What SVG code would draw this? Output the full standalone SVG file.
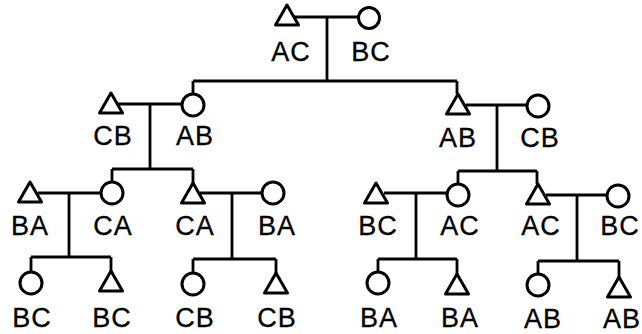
<svg xmlns="http://www.w3.org/2000/svg" width="642" height="334" viewBox="0 0 642 334">
<style>
.ln{stroke:#000;stroke-width:2.8;fill:none}
.sh{stroke:#000;stroke-width:3;fill:#fff;stroke-linejoin:round}
text{font-family:"Liberation Sans",Arial,sans-serif;font-size:27px;text-anchor:middle;fill:#000;letter-spacing:1px;stroke:#000;stroke-width:0.3}
</style>
<rect width="642" height="334" fill="#fff"/>
<g id="connectors" class="ln">
<path d="M292 17H359M327 17V81M193 81H457M193 81V94M457 81V94"/>
<path d="M118 104H182M150 104V169M112 169H193M112 169V182M193 169V184"/>
<path d="M466 105H527M497 105V171M458 171H537M458 171V184M537 171V184"/>
<path d="M38 193H101M69 193V257M31 257H111M31 257V272M111 257V272"/>
<path d="M200 193H262M232 193V259M193 259H276M193 259V273M276 259V274"/>
<path d="M384 193H447M416 193V259M378 259H457M378 259V272M457 259V274"/>
<path d="M546 195H607M577 195V261M538 261H619M538 261V274M619 261V278"/>
</g>
<g id="n_top_m"><polygon class="sh" points="287,5 275.5,25 298.5,25"/><text x="291" y="61">AC</text></g>
<g id="n_top_f"><circle class="sh" cx="369" cy="18" r="10.5"/><text x="371" y="61">BC</text></g>
<g id="n_l_m"><polygon class="sh" points="111,93 99.5,113 122.5,113"/><text x="113" y="145">CB</text></g>
<g id="n_l_f"><circle class="sh" cx="193" cy="105" r="11"/><text x="195" y="145">AB</text></g>
<g id="n_r_m"><polygon class="sh" points="458,94 446.5,114 469.5,114"/><text x="458" y="147">AB</text></g>
<g id="n_r_f"><circle class="sh" cx="538" cy="106" r="11"/><text x="540" y="147">CB</text></g>
<g id="n_ll_m"><polygon class="sh" points="30,182 18.5,202 41.5,202"/><text x="30" y="235">BA</text></g>
<g id="n_ll_f"><circle class="sh" cx="112" cy="193" r="11"/><text x="113" y="235">CA</text></g>
<g id="n_lr_m"><polygon class="sh" points="193,183 181.5,203 204.5,203"/><text x="195" y="235">CA</text></g>
<g id="n_lr_f"><circle class="sh" cx="273" cy="193" r="11"/><text x="277" y="235">BA</text></g>
<g id="n_rl_m"><polygon class="sh" points="376,183 364.5,203 387.5,203"/><text x="378" y="235">BC</text></g>
<g id="n_rl_f"><circle class="sh" cx="458" cy="195" r="11"/><text x="460" y="235">AC</text></g>
<g id="n_rr_m"><polygon class="sh" points="538,184 526.5,204 549.5,204"/><text x="541" y="235">AC</text></g>
<g id="n_rr_f"><circle class="sh" cx="618" cy="196" r="11"/><text x="620" y="235">BC</text></g>
<g id="c_ll_1"><circle class="sh" cx="31" cy="283" r="11"/><text x="32" y="327">BC</text></g>
<g id="c_ll_2"><polygon class="sh" points="111,271 99.5,291 122.5,291"/><text x="112" y="327">BC</text></g>
<g id="c_lr_1"><circle class="sh" cx="193" cy="284" r="11"/><text x="195" y="327">CB</text></g>
<g id="c_lr_2"><polygon class="sh" points="276,273 264.5,293 287.5,293"/><text x="277" y="327">CB</text></g>
<g id="c_rl_1"><circle class="sh" cx="378" cy="283" r="11"/><text x="379" y="327">BA</text></g>
<g id="c_rl_2"><polygon class="sh" points="457,274 445.5,294 468.5,294"/><text x="460" y="327">BA</text></g>
<g id="c_rr_1"><circle class="sh" cx="538" cy="285" r="11"/><text x="543" y="328">AB</text></g>
<g id="c_rr_2"><polygon class="sh" points="619,277 607.5,297 630.5,297"/><text x="622" y="328">AB</text></g>
</svg>
